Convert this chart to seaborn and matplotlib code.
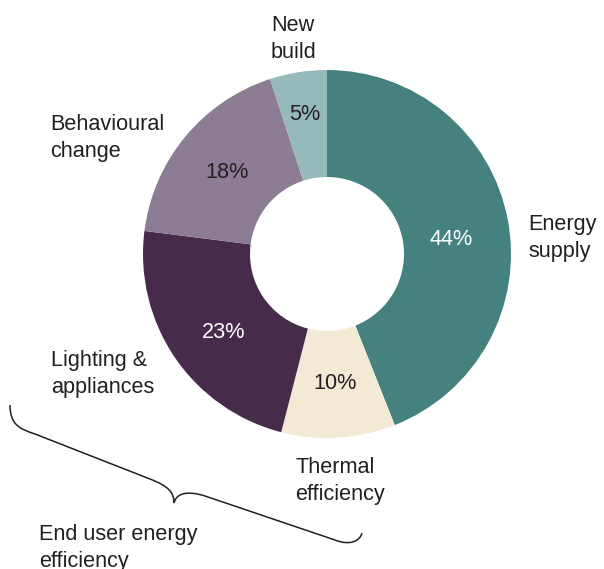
import matplotlib
matplotlib.use("Agg")
import matplotlib.pyplot as plt
from matplotlib.path import Path
from matplotlib.patches import PathPatch
import numpy as np
import seaborn as sns

# Share of emission savings by measure (%)
categories = ["Energy supply", "Thermal efficiency", "Lighting & appliances",
              "Behavioural change", "New build"]
shares = [44, 10, 23, 18, 5]
label_lines = [["Energy", "supply"], ["Thermal", "efficiency"],
               ["Lighting &", "appliances"], ["Behavioural", "change"],
               ["New", "build"]]
group_label = ["End user energy", "efficiency"]

colors = ["#45817e", "#f3ead6", "#472b4a", "#8c7d95", "#96bab9"]
pct_colors = ["white", "#231f20", "white", "#231f20", "#231f20"]

sns.set_theme(style="white")
plt.rcParams["font.family"] = ["Liberation Sans", "DejaVu Sans"]
FS = 15.6

W, H = 604, 569
fig = plt.figure(figsize=(W / 100, H / 100), dpi=100)
ax = fig.add_axes([0, 0, 1, 1])

def Y(y):
    return H - y

center = (327, Y(254))
radius = 184
ring = 107

wedges, _ = ax.pie(shares, colors=colors, startangle=90, counterclock=False,
                   radius=radius, center=center, frame=True,
                   wedgeprops=dict(width=ring, linewidth=0))

# percentage labels inside each ring segment (radius, angular nudge)
pct_r = [125, 128, 129, 130, 143]
pct_shift = [-3.5, 0.0, 2.5, 0.0, 0.0]
for w, v, c, r, s in zip(wedges, shares, pct_colors, pct_r, pct_shift):
    mid = np.deg2rad((w.theta1 + w.theta2) / 2 + s)
    ax.text(center[0] + r * np.cos(mid), center[1] + r * np.sin(mid) - 1.5,
            f"{v}%", color=c, fontsize=FS, ha="center", va="center")

# category labels (left edge, first baseline in pixels)
label_pos = [(528, 230), (295, 473), (51, 366), (50, 130), (271, 31)]
for lines, (x, yb) in zip(label_lines, label_pos):
    for i, line in enumerate(lines):
        ax.text(x, Y(yb + 27 * i), line, fontsize=FS, color="#231f20",
                ha="left", va="baseline")

for i, line in enumerate(group_label):
    ax.text(39, Y(540 + 27 * i), line, fontsize=FS, color="#231f20",
            ha="left", va="baseline")

# curly brace grouping the end-user measures
pts = [(10, 405), (10, 425), (20, 429), (35, 434),
       (150, 479),
       (168, 486), (174, 492), (174, 503),
       (176, 494), (186, 490), (205, 496),
       (335, 540),
       (350, 546), (360, 541), (362, 533)]
codes = [Path.MOVETO, Path.CURVE4, Path.CURVE4, Path.CURVE4,
         Path.LINETO,
         Path.CURVE4, Path.CURVE4, Path.CURVE4,
         Path.CURVE4, Path.CURVE4, Path.CURVE4,
         Path.LINETO,
         Path.CURVE4, Path.CURVE4, Path.CURVE4]
brace = Path([(x, Y(y)) for x, y in pts], codes)
ax.add_patch(PathPatch(brace, facecolor="none", edgecolor="#231f20", lw=1.1))

ax.set_xlim(0, W)
ax.set_ylim(0, H)
ax.set_aspect("equal")
ax.axis("off")

fig.savefig("out.png", dpi=100)
